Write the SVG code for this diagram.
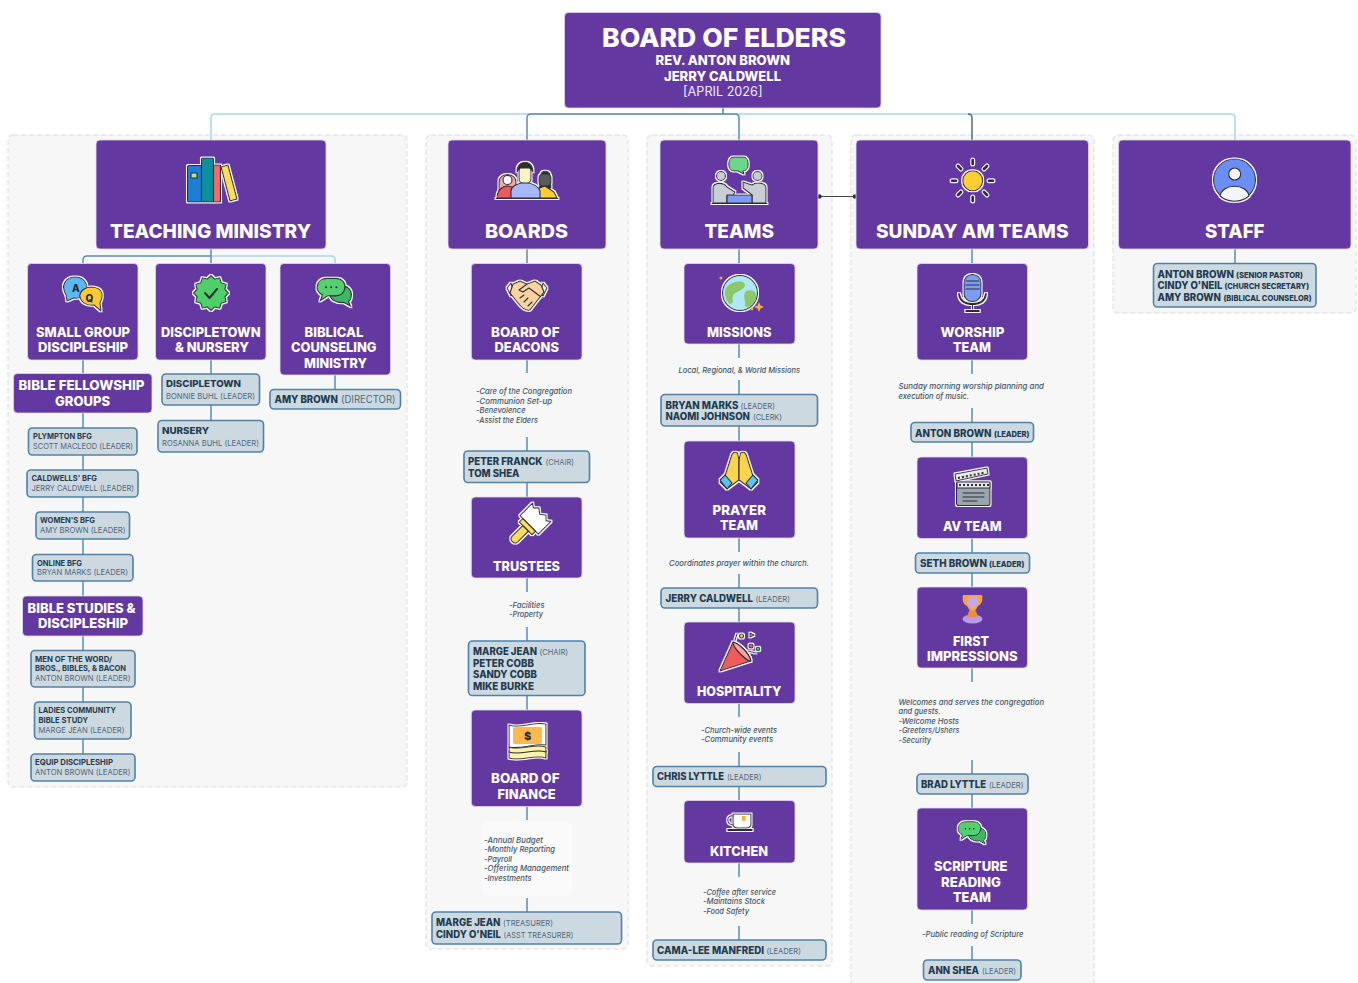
<svg xmlns="http://www.w3.org/2000/svg" width="1358" height="983" viewBox="0 0 1358 983">
<style>
text{font-family:"Inter","Liberation Sans",sans-serif;white-space:pre}
.pn{fill:#6339a1;stroke:#e2d9ee;stroke-width:.8}
.lb{fill:#cdd9e1;stroke:#4f82a8;stroke-width:1.6}
.gr{fill:#f7f7f7;stroke:#e6e6e6;stroke-width:1.5;stroke-dasharray:5 3}
.t{font-size:19px;font-weight:800;fill:#fff}
.h{font-size:13.5px;font-weight:800;fill:#fff}
.b{font-weight:800;fill:#1f3b50;font-size:10px}
.s{font-size:8px}
.l{font-weight:400;fill:#50677a;font-size:8px}
.m{font-weight:700;fill:#1f3b50;font-size:7.5px}
.d{font-size:7.6px;font-style:italic;fill:#3f5568;font-weight:500}
.c{fill:none;stroke:#5b8db3;stroke-width:1.5}
.cl{fill:none;stroke:#a6d8e6;stroke-width:1.5}
.ic *{stroke:#2b2f36;stroke-width:1.1;stroke-linejoin:round;stroke-linecap:round}
.ic{filter:url(#halo)}
.gl{font-size:10px;font-weight:800;fill:#1f2937;stroke:none!important}
</style>
<defs>
<filter id="halo" x="-15%" y="-15%" width="130%" height="130%"><feMorphology in="SourceAlpha" operator="dilate" radius="1"/><feColorMatrix values="0 0 0 0 .93 0 0 0 0 .91 0 0 0 0 .96 0 0 0 1 0" result="o"/><feMerge><feMergeNode in="o"/><feMergeNode in="SourceGraphic"/></feMerge></filter>
<symbol id="chat" viewBox="-1 -1 40 33">
<path d="M18,9C24,6 36,8 37,17C37,21 36,24 34,25L36,30L29,26C22,27 15,24 14,18Z" fill="#3fb765" stroke="#2b2f36" stroke-width="1.3"/>
<path d="M11,.5L20,.5C28,.5 31,6 30,11C29,17 24,19 20,19L12,19L4,24L6,18C2,16 0,13 .5,9C1,4 5,.5 11,.5Z" fill="#55d06f" stroke="#2b2f36" stroke-width="1.3"/>
<circle cx="10" cy="10" r="1.1" fill="#2b2f36"/><circle cx="15.5" cy="10" r="1.1" fill="#2b2f36"/><circle cx="21" cy="10" r="1.1" fill="#2b2f36"/>
</symbol>
</defs>
<rect width="1358" height="983" fill="#fff"/>

<g id="groups">
<rect class="gr" x="8" y="135" width="399" height="652" rx="5"/>
<rect class="gr" x="426" y="135" width="202" height="814" rx="5"/>
<rect class="gr" x="647" y="135" width="185" height="831" rx="5"/>
<rect class="gr" x="851" y="135" width="243" height="860" rx="5"/>
<rect class="gr" x="1113" y="135" width="243" height="178" rx="5"/>
<rect x="482" y="822" width="90" height="74" rx="6" fill="#fafafa"/>
</g>

<g id="connectors">
<path class="cl" d="M723,108V114M723,114H215Q211,114 211,118V140M723,114H1231Q1235,114 1235,118V140"/>
<path class="c" d="M723,108V114H531Q527,114 527,118V140M723,114H735Q739,114 739,118V140"/>
<path fill="none" stroke="#4b6b80" stroke-width="1.5" d="M968,114Q972,114 972,118V140"/>
<path class="cl" d="M211,256H331Q335,256 335,260V263"/>
<path class="c" d="M211,249V263M211,256H87Q83,256 83,260V263"/>
<path class="c" d="M83,360V373M83,413V428M83,455V470M83,497V512M83,539V554M83,581V596M83,636V651M83,687V702M83,739V754M211,360V374M211,405V421M335,375V390M527,249V263M527,360V373M527,437V451M527,482V497M527,578V592M527,627V641M527,695V710M527,806V820M527,898V912M739,249V263M739,344V358M739,380V394M739,426V441M739,538V552M739,574V588M739,608V622M739,703V717M739,752V766M739,786V801M739,863V877M739,926V940M972,249V263M972,360V374M972,408V422M972,442V457M972,538V553M972,573V587M972,668V682M972,760V774M972,794V808M972,910V924M972,946V960M1235,249V263"/>
<path fill="none" stroke="#3d4349" stroke-width="1.2" d="M819.500,196.500H855"/>
<circle cx="819.500" cy="196.500" r="2.200" fill="#2b2f36"/><circle cx="855" cy="196.500" r="2.200" fill="#2b2f36"/>
</g>

<g id="board-of-elders">
<rect class="pn" x="564.500" y="12.500" width="316.500" height="95.500" rx="4"/>
<text class="t" style="font-size:26px" x="602" y="46.500" textLength="244" lengthAdjust="spacingAndGlyphs">BOARD OF ELDERS</text>
<text class="t" style="font-size:13px" x="655.500" y="65" textLength="134.500" lengthAdjust="spacingAndGlyphs">REV. ANTON BROWN</text>
<text class="t" style="font-size:13px" x="664" y="80.500" textLength="117" lengthAdjust="spacingAndGlyphs">JERRY CALDWELL</text>
<text style="font-size:13px;fill:#efeaf6" x="683" y="95.500" textLength="79.500" lengthAdjust="spacingAndGlyphs">[APRIL 2026]</text>
</g>

<g id="teaching-ministry">
<rect class="pn" x="96" y="140" width="230" height="109" rx="4"/>
<g class="ic"><rect x="187.500" y="165.500" width="14" height="36.500" rx="1" fill="#1e7fd6"/><rect x="191" y="173" width="6" height="5" fill="#a8e6a0"/><rect x="201.500" y="158" width="12" height="44" rx="1" fill="#0f8f9c"/><rect x="213.500" y="165" width="7" height="37" fill="#f46a6a"/><path d="M221,167L228,165L237,199L230,201Z" fill="#ffdc5c"/></g>
<text class="t" x="110" y="237.700" textLength="201" lengthAdjust="spacingAndGlyphs">TEACHING MINISTRY</text>
</g>
<g id="boards">
<rect class="pn" x="448" y="140" width="158" height="109" rx="4"/>
<g class="ic"><path d="M499,194L499,182C499,172 516,172 516,182L516,194Z" fill="#f3a6a6"/><circle cx="507.500" cy="180" r="4.500" fill="#fff"/><path d="M497,198C497,190 503,186 507,186C511,186 515,188 517,192L517,198Z" fill="#ee5a5a"/>
<path d="M539,192L541,175C541,170 549,170 550,175L551,188Z" fill="#2b2f36"/><rect x="539" y="174" width="12" height="12" rx="4" fill="#5a5a5a"/><path d="M534,198L534,190L545,186L554,192L557,198Z" fill="#ffcf33"/>
<path d="M511,198L511,191C511,185 520,183 525,182C530,183 539,185 540,191L540,198Z" fill="#a8b8ff"/><rect x="519" y="167" width="12" height="16" rx="4" fill="#fff3c4"/><path d="M517,172C516,160 533,158 533,172L530,168L520,168Z" fill="#2b2f36"/><path d="M496,198.500H558"/></g>
<text class="t" x="485" y="237.700" textLength="83" lengthAdjust="spacingAndGlyphs">BOARDS</text>
</g>
<g id="teams">
<rect class="pn" x="660" y="140" width="158" height="109" rx="4"/>
<g class="ic"><path d="M734,157H743C750,157 750,171 743,171L744,174L738,171H734C727,171 727,157 734,157Z" fill="#6ed58a"/><circle cx="721" cy="176" r="4.500" fill="#c9ced6"/><circle cx="757.500" cy="176" r="4.500" fill="#c9ced6"/><path d="M713,203L713,188C713,182 724,182 727,187L735,192L733,196H727L727,203Z" fill="#c9ced6"/><path d="M766,203L766,188C766,182 755,182 752,185L743,182L743,188L752,195V203Z" fill="#c9ced6"/><rect x="727" y="195" width="25" height="8" fill="#7f9cf5"/><path d="M712,203.500H767"/></g>
<text class="t" x="704.500" y="237.700" textLength="69.500" lengthAdjust="spacingAndGlyphs">TEAMS</text>
</g>
<g id="sunday-am-teams">
<rect class="pn" x="856" y="140" width="232.500" height="109" rx="4"/>
<g class="ic"><circle cx="972.700" cy="180.700" r="10" fill="#ffcf33" stroke-width="1.500"/></g>
<path stroke="#f5f0fa" stroke-width="5" stroke-linecap="round" d="M972.700,160V164M972.700,197V201M952,180.700H956M989,180.700H993M958,166L961,169M984,192L987,195M987,166L984,169M961,192L958,195"/>
<path stroke="#2b2f36" stroke-width="2.600" stroke-linecap="round" d="M972.700,160V164M972.700,197V201M952,180.700H956M989,180.700H993M958,166L961,169M984,192L987,195M987,166L984,169M961,192L958,195"/>
<text class="t" x="876" y="237.700" textLength="192.500" lengthAdjust="spacingAndGlyphs">SUNDAY AM TEAMS</text>
</g>
<g id="staff">
<rect class="pn" x="1118.500" y="140" width="232.500" height="109" rx="4"/>
<g class="ic"><circle cx="1234.500" cy="180" r="21" fill="#6b8ef5" stroke-width="1.500"/><circle cx="1234.700" cy="174" r="6" fill="#f3f5f8"/><path d="M1220,196C1222,183 1247,183 1249,196C1241,203 1228,203 1220,196Z" fill="#f3f5f8"/></g>
<text class="t" x="1205" y="237.700" textLength="59.500" lengthAdjust="spacingAndGlyphs">STAFF</text>
</g>

<g id="small-group">
<rect class="pn" x="27.500" y="263.500" width="110.500" height="96.500" rx="4"/>
<g class="ic"><path d="M66,295C60,285 66,277 75,277C84,277 88,284 87,290C86,296 80,299 74,298L67,301Z" fill="#5cb8f5"/><path d="M100,303C104,295 103,288 92,287C83,287 79,293 80,297C81,303 88,306 94,305L101,311Z" fill="#ffc933"/></g>
<text class="gl" x="72" y="291.500">A</text><text class="gl" x="85.500" y="302">Q</text>
<text class="h" x="36" y="336.500" textLength="94" lengthAdjust="spacingAndGlyphs">SMALL GROUP</text>
<text class="h" x="38" y="351.500" textLength="90" lengthAdjust="spacingAndGlyphs">DISCIPLESHIP</text>
</g>
<g id="discipletown-nursery">
<rect class="pn" x="155.500" y="263.500" width="110.500" height="96.500" rx="4"/>
<g class="ic"><path transform="translate(211,293)" fill="#4fce6a" d="M17.500,0L14,3.750L15.200,8.750L10.250,10.250L8.750,15.200L3.750,14L0,17.500L-3.750,14L-8.750,15.200L-10.250,10.250L-15.200,8.750L-14,3.750L-17.500,0L-14,-3.750L-15.200,-8.750L-10.250,-10.250L-8.750,-15.200L-3.750,-14L0,-17.500L3.750,-14L8.750,-15.200L10.250,-10.250L15.200,-8.750L14,-3.750Z"/><path d="M205,293L209.500,298L217,289" fill="none" style="stroke-width:2"/></g>
<text class="h" x="161" y="336.500" textLength="99.500" lengthAdjust="spacingAndGlyphs">DISCIPLETOWN</text>
<text class="h" x="175" y="352" textLength="74" lengthAdjust="spacingAndGlyphs">&amp; NURSERY</text>
</g>
<g id="biblical-counseling">
<rect class="pn" x="280" y="263.500" width="110.500" height="111.500" rx="4"/>
<use href="#chat" class="ic" x="315.500" y="277" width="38" height="31"/>
<text class="h" x="304.500" y="336.500" textLength="59" lengthAdjust="spacingAndGlyphs">BIBLICAL</text>
<text class="h" x="291" y="352" textLength="85.500" lengthAdjust="spacingAndGlyphs">COUNSELING</text>
<text class="h" x="304" y="367.500" textLength="63" lengthAdjust="spacingAndGlyphs">MINISTRY</text>
</g>
<g id="bible-fellowship">
<rect class="pn" x="13.500" y="373.500" width="138.500" height="39.500" rx="4"/>
<text class="h" x="18.500" y="390" textLength="126" lengthAdjust="spacingAndGlyphs">BIBLE FELLOWSHIP</text>
<text class="h" x="55" y="405.500" textLength="55" lengthAdjust="spacingAndGlyphs">GROUPS</text>
</g>
<g id="bible-studies">
<rect class="pn" x="22.500" y="596" width="120.500" height="40" rx="4"/>
<text class="h" x="27.500" y="612.500" textLength="108" lengthAdjust="spacingAndGlyphs">BIBLE STUDIES &amp;</text>
<text class="h" x="38" y="628" textLength="90" lengthAdjust="spacingAndGlyphs">DISCIPLESHIP</text>
</g>
<g id="discipletown-leader">
<rect class="lb" x="162" y="374" width="97.500" height="31" rx="4"/>
<text class="b" style="font-size:9.500px" x="166" y="387" textLength="75" lengthAdjust="spacingAndGlyphs">DISCIPLETOWN</text>
<text class="l" x="166" y="399" textLength="89" lengthAdjust="spacingAndGlyphs">BONNIE BUHL (LEADER)</text>
</g>
<g id="nursery-leader">
<rect class="lb" x="158" y="420.500" width="105.500" height="31.500" rx="4"/>
<text class="b" style="font-size:9.500px" x="162" y="434" textLength="47" lengthAdjust="spacingAndGlyphs">NURSERY</text>
<text class="l" x="162" y="446" textLength="97" lengthAdjust="spacingAndGlyphs">ROSANNA BUHL (LEADER)</text>
</g>
<g id="amy-director">
<rect class="lb" x="270" y="389.500" width="130.500" height="19.500" rx="4"/>
<text y="403"><tspan class="b" x="274.500" textLength="63.500" lengthAdjust="spacingAndGlyphs">AMY BROWN</tspan> <tspan class="l" style="font-size:10px" x="341" textLength="54.500" lengthAdjust="spacingAndGlyphs">(DIRECTOR)</tspan></text>
</g>
<g id="plympton">
<rect class="lb" x="28.500" y="428" width="108.500" height="27" rx="4"/>
<text class="m" x="33" y="439" textLength="59" lengthAdjust="spacingAndGlyphs">PLYMPTON BFG</text>
<text class="l" x="33" y="449" textLength="100" lengthAdjust="spacingAndGlyphs">SCOTT MACLEOD (LEADER)</text>
</g>
<g id="caldwells">
<rect class="lb" x="27" y="470" width="111" height="27" rx="4"/>
<text class="m" x="31.500" y="481" textLength="65.500" lengthAdjust="spacingAndGlyphs">CALDWELLS' BFG</text>
<text class="l" x="31.500" y="491" textLength="102.500" lengthAdjust="spacingAndGlyphs">JERRY CALDWELL (LEADER)</text>
</g>
<g id="womens">
<rect class="lb" x="36" y="512" width="93.500" height="27" rx="4"/>
<text class="m" x="40" y="523" textLength="55" lengthAdjust="spacingAndGlyphs">WOMEN'S BFG</text>
<text class="l" x="40" y="533" textLength="85.500" lengthAdjust="spacingAndGlyphs">AMY BROWN (LEADER)</text>
</g>
<g id="online">
<rect class="lb" x="32.500" y="554.500" width="100.500" height="26.500" rx="4"/>
<text class="m" x="37" y="565.500" textLength="45" lengthAdjust="spacingAndGlyphs">ONLINE BFG</text>
<text class="l" x="37" y="575" textLength="91" lengthAdjust="spacingAndGlyphs">BRYAN MARKS (LEADER)</text>
</g>
<g id="men-of-the-word">
<rect class="lb" x="31" y="650.500" width="104" height="36.500" rx="4"/>
<text class="m" x="35" y="661.500" textLength="77" lengthAdjust="spacingAndGlyphs">MEN OF THE WORD/</text>
<text class="m" x="35" y="671" textLength="91" lengthAdjust="spacingAndGlyphs">BROS., BIBLES, &amp; BACON</text>
<text class="l" x="35" y="681" textLength="95.500" lengthAdjust="spacingAndGlyphs">ANTON BROWN (LEADER)</text>
</g>
<g id="ladies">
<rect class="lb" x="34.500" y="702" width="96.500" height="37" rx="4"/>
<text class="m" x="38.500" y="713" textLength="77.500" lengthAdjust="spacingAndGlyphs">LADIES COMMUNITY</text>
<text class="m" x="38.500" y="723" textLength="49.500" lengthAdjust="spacingAndGlyphs">BIBLE STUDY</text>
<text class="l" x="38.500" y="732.500" textLength="86" lengthAdjust="spacingAndGlyphs">MARGE JEAN (LEADER)</text>
</g>
<g id="equip">
<rect class="lb" x="31" y="754" width="104" height="27" rx="4"/>
<text class="m" x="35" y="765" textLength="78" lengthAdjust="spacingAndGlyphs">EQUIP DISCIPLESHIP</text>
<text class="l" x="35" y="775" textLength="95.500" lengthAdjust="spacingAndGlyphs">ANTON BROWN (LEADER)</text>
</g>

<g id="board-of-deacons">
<rect class="pn" x="471.300" y="263.500" width="110.700" height="96.500" rx="4"/>
<g class="ic"><path d="M511,283L507,288L511,296L514,293Z" fill="#f0f0f0"/><path d="M543,283L547,288L543,296L540,293Z" fill="#f0f0f0"/><path d="M513,284L520,281L527,284L535,281L541,285L544,292L530,310C526,311 521,307 518,303L510,293Z" fill="#fcd29f"/><path d="M527,284L519,290L523,292L529,288L541,297M524,302L528,298M520,298L524,295M528,306L532,302" fill="none"/></g>
<text class="h" x="491" y="336.500" textLength="68.500" lengthAdjust="spacingAndGlyphs">BOARD OF</text>
<text class="h" x="494.500" y="352" textLength="64.500" lengthAdjust="spacingAndGlyphs">DEACONS</text>
</g>
<g id="deacons-text">
<text class="d" x="476" y="394" textLength="96" lengthAdjust="spacingAndGlyphs">-Care of the Congregation</text>
<text class="d" x="476" y="403.500" textLength="76" lengthAdjust="spacingAndGlyphs">-Communion Set-up</text>
<text class="d" x="476" y="413" textLength="49.500" lengthAdjust="spacingAndGlyphs">-Benevolence</text>
<text class="d" x="476" y="422.500" textLength="62" lengthAdjust="spacingAndGlyphs">-Assist the Elders</text>
</g>
<g id="deacons-people">
<rect class="lb" x="464" y="451" width="125.500" height="31.500" rx="4"/>
<text y="465"><tspan class="b" x="468" textLength="74.500" lengthAdjust="spacingAndGlyphs">PETER FRANCK</tspan> <tspan class="l" x="545.500" textLength="28.500" lengthAdjust="spacingAndGlyphs">(CHAIR)</tspan></text>
<text class="b" x="468" y="476.500" textLength="51.500" lengthAdjust="spacingAndGlyphs">TOM SHEA</text>
</g>
<g id="trustees">
<rect class="pn" x="471.300" y="497" width="110.700" height="81" rx="4"/>
<g class="ic"><g transform="rotate(45 527 527)"><path d="M514,506L518,509L522,505L527,509L532,505L536,509L540,506V524H514Z" fill="#fff"/><rect x="518" y="524" width="18" height="5" fill="#ffdc5c"/><path d="M523,529H531V544C531,549 523,549 523,544Z" fill="#ffdc5c"/></g></g>
<text class="h" x="493" y="570.500" textLength="67" lengthAdjust="spacingAndGlyphs">TRUSTEES</text>
</g>
<g id="trustees-text">
<text class="d" x="509" y="607.500" textLength="35.500" lengthAdjust="spacingAndGlyphs">-Facilities</text>
<text class="d" x="509" y="617" textLength="34" lengthAdjust="spacingAndGlyphs">-Property</text>
</g>
<g id="trustees-people">
<rect class="lb" x="468.500" y="641" width="116.500" height="54.500" rx="4"/>
<text y="655"><tspan class="b" x="473" textLength="64" lengthAdjust="spacingAndGlyphs">MARGE JEAN</tspan> <tspan class="l" x="539.500" textLength="28.500" lengthAdjust="spacingAndGlyphs">(CHAIR)</tspan></text>
<text class="b" x="473" y="666.500" textLength="61" lengthAdjust="spacingAndGlyphs">PETER COBB</text>
<text class="b" x="473" y="678" textLength="64" lengthAdjust="spacingAndGlyphs">SANDY COBB</text>
<text class="b" x="473" y="689.500" textLength="61" lengthAdjust="spacingAndGlyphs">MIKE BURKE</text>
</g>
<g id="board-of-finance">
<rect class="pn" x="471.300" y="710" width="110.700" height="96.500" rx="4"/>
<g class="ic"><path d="M509,751C520,755 535,747 546,751V758C535,754 520,762 509,758Z" fill="#fdf3a7"/><path d="M509,747C520,751 535,743 546,747V752C535,748 520,756 509,752Z" fill="#fdf3a7"/><path d="M509,725C520,729 535,721 546,724V745C535,743 520,750 509,747Z" fill="#fff"/></g>
<rect x="513" y="727" width="29" height="17" rx="2" fill="#ffb84d"/>
<text class="gl" style="font-size:11px" x="524" y="740">$</text>
<text class="h" x="491" y="783.300" textLength="68.500" lengthAdjust="spacingAndGlyphs">BOARD OF</text>
<text class="h" x="497.500" y="798.500" textLength="58" lengthAdjust="spacingAndGlyphs">FINANCE</text>
</g>
<g id="finance-text">
<text class="d" x="484" y="842.800" textLength="59" lengthAdjust="spacingAndGlyphs">-Annual Budget</text>
<text class="d" x="484" y="852.300" textLength="71" lengthAdjust="spacingAndGlyphs">-Monthly Reporting</text>
<text class="d" x="484" y="861.800" textLength="28" lengthAdjust="spacingAndGlyphs">-Payroll</text>
<text class="d" x="484" y="871.300" textLength="85" lengthAdjust="spacingAndGlyphs">-Offering Management</text>
<text class="d" x="484" y="880.800" textLength="47.500" lengthAdjust="spacingAndGlyphs">-Investments</text>
</g>
<g id="finance-people">
<rect class="lb" x="432" y="912" width="189.500" height="32" rx="4"/>
<text y="926"><tspan class="b" x="436" textLength="64.500" lengthAdjust="spacingAndGlyphs">MARGE JEAN</tspan> <tspan class="l" x="503" textLength="50" lengthAdjust="spacingAndGlyphs">(TREASURER)</tspan></text>
<text y="937.500"><tspan class="b" x="436" textLength="65" lengthAdjust="spacingAndGlyphs">CINDY O'NEIL</tspan> <tspan class="l" x="503.500" textLength="70" lengthAdjust="spacingAndGlyphs">(ASST TREASURER)</tspan></text>
</g>

<g id="missions">
<rect class="pn" x="684" y="263.500" width="111" height="80.500" rx="4"/>
<g class="ic"><circle cx="740" cy="293" r="17.500" fill="#aee8f5" stroke-width="1.500"/></g>
<path fill="#8cc86a" d="M726,288C730,282 740,280 744,283C748,288 738,291 734,294C730,300 736,302 730,304C725,300 724,293 726,288ZM746,291C752,289 757,291 756,298C755,304 748,309 745,306C746,300 742,296 746,291Z"/>
<circle cx="721" cy="278" r="1.600" fill="#f59e3c"/><circle cx="752" cy="309" r="1.400" fill="#f59e3c"/><path fill="#fbb040" d="M759,302L760.500,305.500L764,307L760.500,308.500L759,312L757.500,308.500L754,307L757.500,305.500Z"/>
<text class="h" x="707" y="336.500" textLength="64.500" lengthAdjust="spacingAndGlyphs">MISSIONS</text>
</g>
<g id="missions-text"><text class="d" x="678.500" y="372.500" textLength="121.500" lengthAdjust="spacingAndGlyphs">Local, Regional, &amp; World Missions</text></g>
<g id="missions-people">
<rect class="lb" x="661" y="394.500" width="156.500" height="31.500" rx="4"/>
<text y="408.500"><tspan class="b" x="665.500" textLength="73" lengthAdjust="spacingAndGlyphs">BRYAN MARKS</tspan> <tspan class="l" x="740.500" textLength="34.500" lengthAdjust="spacingAndGlyphs">(LEADER)</tspan></text>
<text y="420"><tspan class="b" x="665.500" textLength="84.500" lengthAdjust="spacingAndGlyphs">NAOMI JOHNSON</tspan> <tspan class="l" x="753" textLength="29" lengthAdjust="spacingAndGlyphs">(CLERK)</tspan></text>
</g>
<g id="prayer-team">
<rect class="pn" x="684" y="441" width="111" height="97" rx="4"/>
<g class="ic"><path d="M737.500,453C734,451 732,453 731,457L725,476L720,482L727,489L739,480V460Z" fill="#fcd34d"/><path d="M740.500,453C744,451 746,453 747,457L753,476L758,482L751,489L739,480V460Z" fill="#fcd34d"/><path d="M720,480L727,489L732,483L725,475Z" fill="#5cc0f0"/><path d="M758,480L751,489L746,483L753,475Z" fill="#5cc0f0"/></g>
<text class="h" x="712.500" y="514.500" textLength="53.500" lengthAdjust="spacingAndGlyphs">PRAYER</text>
<text class="h" x="720" y="530" textLength="38" lengthAdjust="spacingAndGlyphs">TEAM</text>
</g>
<g id="prayer-text"><text class="d" x="669" y="565.500" textLength="140" lengthAdjust="spacingAndGlyphs">Coordinates prayer within the church.</text></g>
<g id="prayer-people">
<rect class="lb" x="661" y="588" width="156.500" height="20" rx="4"/>
<text y="601.500"><tspan class="b" x="665.500" textLength="87.500" lengthAdjust="spacingAndGlyphs">JERRY CALDWELL</tspan> <tspan class="l" x="755.500" textLength="34.500" lengthAdjust="spacingAndGlyphs">(LEADER)</tspan></text>
</g>
<g id="hospitality">
<rect class="pn" x="684" y="622" width="111" height="81.500" rx="4"/>
<g class="ic"><path d="M720,671L733,642C738,643 749,652 751,661Z" fill="#ef5b5b"/><path d="M733,642C738,643 749,652 751,661C749,663 732,648 733,642Z" fill="#f7a0a0"/><circle cx="741.500" cy="636" r="2" fill="#ffdc5c"/><circle cx="751" cy="646" r="2" fill="#e85d5d"/><circle cx="758" cy="649" r="1.800" fill="#52c76e"/><path d="M750,633L754,635L750,637Z" fill="#f3a6a6"/><path d="M735,640L737,634M748,651L756,653" fill="none"/></g>
<text class="h" x="697" y="695.500" textLength="84.500" lengthAdjust="spacingAndGlyphs">HOSPITALITY</text>
</g>
<g id="hospitality-text">
<text class="d" x="701" y="732.500" textLength="76" lengthAdjust="spacingAndGlyphs">-Church-wide events</text>
<text class="d" x="701" y="742" textLength="72" lengthAdjust="spacingAndGlyphs">-Community events</text>
</g>
<g id="hospitality-people">
<rect class="lb" x="653" y="766.500" width="173" height="20" rx="4"/>
<text y="780"><tspan class="b" x="657" textLength="67" lengthAdjust="spacingAndGlyphs">CHRIS LYTTLE</tspan> <tspan class="l" x="727" textLength="34.500" lengthAdjust="spacingAndGlyphs">(LEADER)</tspan></text>
</g>
<g id="kitchen">
<rect class="pn" x="684" y="800.500" width="111" height="62.500" rx="4"/>
<g class="ic"><path d="M733,814H751V824C751,827 748,828 746,828H738C735,828 733,827 733,824Z" fill="#fff"/><path d="M733,816C726,815 726,824 733,825" fill="none"/><path d="M728,830H752" fill="none" style="stroke-width:1.800"/></g>
<rect x="742" y="816" width="3.500" height="5" fill="#fbb040"/>
<text class="h" x="710" y="855.500" textLength="58" lengthAdjust="spacingAndGlyphs">KITCHEN</text>
</g>
<g id="kitchen-text">
<text class="d" x="703" y="894.500" textLength="73" lengthAdjust="spacingAndGlyphs">-Coffee after service</text>
<text class="d" x="703" y="904" textLength="62" lengthAdjust="spacingAndGlyphs">-Maintains Stock</text>
<text class="d" x="703" y="913.500" textLength="46" lengthAdjust="spacingAndGlyphs">-Food Safety</text>
</g>
<g id="kitchen-people">
<rect class="lb" x="653" y="940" width="173" height="20" rx="4"/>
<text y="953.500"><tspan class="b" x="657" textLength="107" lengthAdjust="spacingAndGlyphs">CAMA-LEE MANFREDI</tspan> <tspan class="l" x="766.500" textLength="34.500" lengthAdjust="spacingAndGlyphs">(LEADER)</tspan></text>
</g>

<g id="worship-team">
<rect class="pn" x="917" y="263.500" width="110.500" height="96.500" rx="4"/>
<g class="ic"><rect x="964" y="274.500" width="17" height="27" rx="8" fill="#7f9cf5"/><path d="M959,294C960,301 964,304 972.500,304C981,304 985,301 986,294" fill="none" style="stroke-width:2"/><path d="M972.500,304V309" fill="none"/><path d="M966,311H979" fill="none" style="stroke-width:2"/><path d="M966,281H979M966,285H979M966,289H979" fill="none"/></g>
<text class="h" x="940.500" y="336.500" textLength="64" lengthAdjust="spacingAndGlyphs">WORSHIP</text>
<text class="h" x="953" y="352" textLength="38" lengthAdjust="spacingAndGlyphs">TEAM</text>
</g>
<g id="worship-text">
<text class="d" x="898.500" y="389" textLength="145.500" lengthAdjust="spacingAndGlyphs">Sunday morning worship planning and</text>
<text class="d" x="898.500" y="398.500" textLength="70.500" lengthAdjust="spacingAndGlyphs">execution of music.</text>
</g>
<g id="worship-people">
<rect class="lb" x="911" y="422.500" width="122.500" height="19.500" rx="4"/>
<text y="436.500"><tspan class="b" x="915" textLength="76.500" lengthAdjust="spacingAndGlyphs">ANTON BROWN</tspan> <tspan class="b s" x="994" textLength="35.500" lengthAdjust="spacingAndGlyphs">(LEADER)</tspan></text>
</g>
<g id="av-team">
<rect class="pn" x="917" y="457" width="110.500" height="81.500" rx="4"/>
<g class="ic"><rect x="956.500" y="482" width="33.500" height="23.500" rx="2" fill="#9aa5ad"/><path d="M955,474L987,468L988,474L956,481Z" fill="#e8e8e8"/><path d="M957,482H990V488H957Z" fill="#e8e8e8"/><path d="M963,493H984M963,497H984M963,501H977" fill="none"/></g>
<path stroke="#2b2f36" stroke-width="2" stroke-dasharray="2 2" d="M958,478L985,472.500M959,485H989"/>
<text class="h" x="943" y="530.500" textLength="58.500" lengthAdjust="spacingAndGlyphs">AV TEAM</text>
</g>
<g id="av-people">
<rect class="lb" x="915.500" y="553" width="114" height="20" rx="4"/>
<text y="566.500"><tspan class="b" x="920" textLength="67" lengthAdjust="spacingAndGlyphs">SETH BROWN</tspan> <tspan class="b s" x="989" textLength="35.500" lengthAdjust="spacingAndGlyphs">(LEADER)</tspan></text>
</g>
<g id="first-impressions">
<rect class="pn" x="917" y="587" width="110.500" height="81" rx="4"/>
<path fill="#f5a53c" d="M963,595H982C983,600 982,604 978,606L975,611H970L967,606C963,604 962,600 963,595Z"/>
<path fill="#c9a8e8" d="M967,597H978V603L975,608H970L967,603Z"/>
<ellipse cx="972.500" cy="619" rx="10" ry="4.500" fill="#b79be8"/>
<path fill="#f08a3c" d="M969,611H976L978,617H967Z"/>
<text class="h" x="953" y="645.500" textLength="36" lengthAdjust="spacingAndGlyphs">FIRST</text>
<text class="h" x="927" y="660.500" textLength="90.500" lengthAdjust="spacingAndGlyphs">IMPRESSIONS</text>
</g>
<g id="first-text">
<text class="d" x="898.500" y="704.500" textLength="145.500" lengthAdjust="spacingAndGlyphs">Welcomes and serves the congregation</text>
<text class="d" x="898.500" y="714" textLength="42" lengthAdjust="spacingAndGlyphs">and guests.</text>
<text class="d" x="898.500" y="723.500" textLength="60.500" lengthAdjust="spacingAndGlyphs">-Welcome Hosts</text>
<text class="d" x="898.500" y="733" textLength="61" lengthAdjust="spacingAndGlyphs">-Greeters/Ushers</text>
<text class="d" x="898.500" y="742.500" textLength="32.500" lengthAdjust="spacingAndGlyphs">-Security</text>
</g>
<g id="first-people">
<rect class="lb" x="917" y="774" width="111" height="20" rx="4"/>
<text y="788"><tspan class="b" x="921" textLength="65" lengthAdjust="spacingAndGlyphs">BRAD LYTTLE</tspan> <tspan class="l" x="989" textLength="34.500" lengthAdjust="spacingAndGlyphs">(LEADER)</tspan></text>
</g>
<g id="scripture-reading">
<rect class="pn" x="917" y="808" width="110.500" height="102" rx="4"/>
<use href="#chat" class="ic" x="957" y="820.500" width="30.500" height="25"/>
<text class="h" x="934" y="871" textLength="73.500" lengthAdjust="spacingAndGlyphs">SCRIPTURE</text>
<text class="h" x="941" y="886.500" textLength="60" lengthAdjust="spacingAndGlyphs">READING</text>
<text class="h" x="953" y="902" textLength="38" lengthAdjust="spacingAndGlyphs">TEAM</text>
</g>
<g id="scripture-text"><text class="d" x="922" y="937" textLength="101.500" lengthAdjust="spacingAndGlyphs">-Public reading of Scripture</text></g>
<g id="scripture-people">
<rect class="lb" x="923.500" y="960" width="97.500" height="20" rx="4"/>
<text y="973.500"><tspan class="b" x="928" textLength="51" lengthAdjust="spacingAndGlyphs">ANN SHEA</tspan> <tspan class="l" x="982" textLength="34" lengthAdjust="spacingAndGlyphs">(LEADER)</tspan></text>
</g>
<g id="staff-people">
<rect class="lb" x="1153.500" y="263.500" width="162.500" height="43.500" rx="4"/>
<text y="277.500"><tspan class="b" x="1157.500" textLength="76.500" lengthAdjust="spacingAndGlyphs">ANTON BROWN</tspan> <tspan class="b s" x="1236" textLength="67" lengthAdjust="spacingAndGlyphs">(SENIOR PASTOR)</tspan></text>
<text y="289"><tspan class="b" x="1157.500" textLength="65" lengthAdjust="spacingAndGlyphs">CINDY O'NEIL</tspan> <tspan class="b s" x="1224.500" textLength="84.500" lengthAdjust="spacingAndGlyphs">(CHURCH SECRETARY)</tspan></text>
<text y="300.500"><tspan class="b" x="1157.500" textLength="63.500" lengthAdjust="spacingAndGlyphs">AMY BROWN</tspan> <tspan class="b s" x="1223.500" textLength="88" lengthAdjust="spacingAndGlyphs">(BIBLICAL COUNSELOR)</tspan></text>
</g>
</svg>
